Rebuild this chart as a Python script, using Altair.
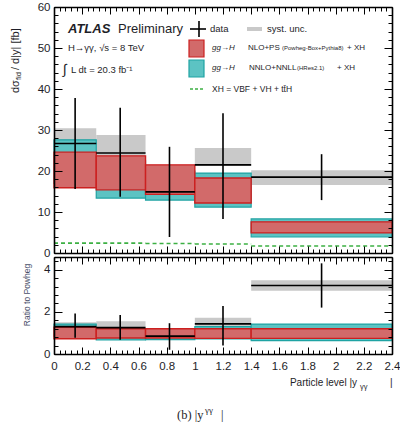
import altair as alt
import numpy as np
import pandas as pd

# ---- binning in |y_gg| ----
bin_lo = [0.0, 0.3, 0.65, 1.0, 1.4]
bin_hi = [0.3, 0.65, 1.0, 1.4, 2.4]
bin_mid = [0.15, 0.47, 0.82, 1.2, 1.9]

# ---- measured fiducial cross section [fb] ----
data_xs = [26.7, 24.4, 14.9, 21.5, 18.5]
data_lo = [15.6, 13.7, 3.9, 8.3, 12.9]
data_hi = [37.8, 35.4, 25.9, 34.1, 24.1]
syst_lo = [24.0, 22.0, 13.6, 21.2, 16.6]
syst_hi = [30.4, 28.8, 16.4, 25.6, 20.2]

# ---- predictions ----
powheg_lo = [15.9, 15.4, 14.3, 12.2, 4.9]
powheg_hi = [24.6, 23.7, 21.5, 18.3, 7.6]
hres_lo = [17.0, 13.4, 12.9, 11.2, 3.9]
hres_hi = [27.6, 22.5, 20.0, 19.5, 8.3]
xh_xs = [2.4, 2.4, 2.3, 2.2, 1.7]

# ---- ratio to Powheg ----
ratio_val = [1.3, 1.25, 0.85, 1.43, 3.25]
ratio_lo = [0.77, 0.68, 0.2, 0.4, 2.2]
ratio_hi = [1.92, 1.85, 1.46, 2.28, 4.3]
ratio_syst_lo = [1.1, 1.0, 0.75, 1.3, 3.0]
ratio_syst_hi = [1.5, 1.55, 0.95, 1.72, 3.5]
ratio_powheg_lo = [0.72, 0.76, 0.76, 0.74, 0.74]
ratio_powheg_hi = [1.27, 1.2, 1.2, 1.2, 1.2]
ratio_hres_lo = [0.85, 0.67, 0.68, 0.72, 0.63]
ratio_hres_hi = [1.42, 1.15, 1.12, 1.3, 1.42]

# ---- axis tick positions ----
x_major = [0, 0.2, 0.4, 0.6, 0.8, 1, 1.2, 1.4, 1.6, 1.8, 2, 2.2, 2.4]
x_minor = [round(v, 2) for v in np.arange(0, 2.4001, 0.04)]
y_major = [0, 10, 20, 30, 40, 50, 60]
y_minor = list(range(0, 61, 2))
r_major = [0, 2, 4]
r_minor = [round(v, 1) for v in np.arange(0, 4.61, 0.4)]

df = pd.DataFrame(dict(
    lo=bin_lo, hi=bin_hi, mid=bin_mid,
    xs=data_xs, elo=data_lo, ehi=data_hi, slo=syst_lo, shi=syst_hi,
    plo=powheg_lo, phi=powheg_hi, hlo=hres_lo, hhi=hres_hi, xh=xh_xs,
    r=ratio_val, rlo=ratio_lo, rhi=ratio_hi, rslo=ratio_syst_lo, rshi=ratio_syst_hi,
    rplo=ratio_powheg_lo, rphi=ratio_powheg_hi, rhlo=ratio_hres_lo, rhhi=ratio_hres_hi,
))

W, H = 338, 347          # whole drawing area (both panels)
MAIN_H = 246             # bottom edge of the upper panel
RATIO_TOP = 250          # top edge of the ratio panel

FONT = "Liberation Sans"
INK = "#1e1e28"
GREY = "#c9c9c9"
RED_FILL, RED_LINE = "#d26a6a", "#cc2020"
TEAL_FILL, TEAL_LINE = "#5cc3c3", "#1fa3a3"
GREEN = "#3cb043"

xscale = alt.Scale(domain=[0, 2.4], nice=False, zero=False)
yscale = alt.Scale(domain=[0, 60], range=[MAIN_H, 0], nice=False, zero=False)
rscale = alt.Scale(domain=[0, 4.6], range=[H, RATIO_TOP], nice=False, zero=False)


def tick_axis(orient, offset, values, size, domain):
    return alt.Axis(orient=orient, offset=offset, values=values, tickSize=size,
                    labels=False, domain=domain, title=None, grid=False,
                    tickColor="black", tickWidth=1, domainColor="black",
                    domainWidth=1.6, zindex=3)


def label_axis(orient, values, pad, fmt=None):
    kw = dict(orient=orient, values=values, ticks=False, domain=False, title=None,
              grid=False, labelPadding=pad, labelFlush=False, labelOverlap=False,
              labelFont=FONT, labelFontSize=11.5, labelColor=INK, zindex=3)
    if fmt:
        kw["format"] = fmt
    return alt.Axis(**kw)


def x_guide(axis):
    return alt.Chart(df).mark_point(opacity=0, size=1).encode(
        x=alt.X("mid:Q", scale=xscale, axis=axis))


def y_guide(field, scale, axis):
    return alt.Chart(df).mark_point(opacity=0, size=1).encode(
        y=alt.Y(field, type="quantitative", scale=scale, axis=axis))


guides = [
    # horizontal frame edges with inward ticks
    x_guide(tick_axis("bottom", -H, x_major, 7, True)),
    x_guide(tick_axis("bottom", -H, x_minor, 4, False)),
    x_guide(tick_axis("top", -MAIN_H, x_major, 7, True)),
    x_guide(tick_axis("top", -MAIN_H, x_minor, 4, False)),
    x_guide(tick_axis("bottom", RATIO_TOP - H, x_major, 7, True)),
    x_guide(tick_axis("bottom", RATIO_TOP - H, x_minor, 4, False)),
    x_guide(tick_axis("top", -H, x_major, 7, True)),
    x_guide(tick_axis("top", -H, x_minor, 4, False)),
    x_guide(label_axis("bottom", x_major, 6, "~g")),
    # vertical frame edges, upper panel
    y_guide("xs", yscale, label_axis("left", y_major, 4)),
    y_guide("xs", yscale, tick_axis("right", -W, y_major, 8, True)),
    y_guide("xs", yscale, tick_axis("right", -W, y_minor, 4, False)),
    y_guide("xs", yscale, tick_axis("left", -W, y_major, 8, True)),
    y_guide("xs", yscale, tick_axis("left", -W, y_minor, 4, False)),
    # vertical frame edges, ratio panel
    y_guide("r", rscale, label_axis("left", r_major, 4)),
    y_guide("r", rscale, tick_axis("right", -W, r_major, 8, True)),
    y_guide("r", rscale, tick_axis("right", -W, r_minor, 4, False)),
    y_guide("r", rscale, tick_axis("left", -W, r_major, 8, True)),
    y_guide("r", rscale, tick_axis("left", -W, r_minor, 4, False)),
]


def band(lo, hi, scale, fill, stroke=None, sw=1.2):
    kw = dict(fill=fill, opacity=1)
    if stroke:
        kw.update(stroke=stroke, strokeWidth=sw)
    else:
        kw.update(strokeWidth=0)
    return alt.Chart(df).mark_rect(**kw).encode(
        x=alt.X("lo:Q", scale=xscale, axis=None), x2="hi:Q",
        y=alt.Y(lo, type="quantitative", scale=scale, axis=None), y2=hi)


def hline(field, scale, color, width, dash=None):
    kw = dict(color=color, strokeWidth=width)
    if dash:
        kw["strokeDash"] = dash
    return alt.Chart(df).mark_rule(**kw).encode(
        x=alt.X("lo:Q", scale=xscale, axis=None), x2="hi:Q",
        y=alt.Y(field, type="quantitative", scale=scale, axis=None))


def vbar(lo, hi, scale):
    return alt.Chart(df).mark_rule(color="black", strokeWidth=1.6).encode(
        x=alt.X("mid:Q", scale=xscale, axis=None),
        y=alt.Y(lo, type="quantitative", scale=scale, axis=None), y2=hi)


marks = [
    # upper panel
    band("slo", "shi", yscale, GREY),
    band("hlo", "hhi", yscale, TEAL_FILL, TEAL_LINE),
    band("plo", "phi", yscale, RED_FILL, RED_LINE, 1.4),
    hline("xh", yscale, GREEN, 1.6, [4, 3]),
    hline("xs", yscale, "black", 1.6),
    vbar("elo", "ehi", yscale),
    # ratio panel
    band("rslo", "rshi", rscale, GREY),
    band("rhlo", "rhhi", rscale, TEAL_FILL, TEAL_LINE),
    band("rplo", "rphi", rscale, RED_FILL, RED_LINE, 1.4),
    hline("r", rscale, "black", 1.6),
    vbar("rlo", "rhi", rscale),
]


def txt(s, x, y, size=9, **kw):
    props = dict(text=s, fontSize=size, font=kw.pop("font", FONT),
                 align=kw.pop("align", "left"), baseline=kw.pop("baseline", "middle"),
                 color=kw.pop("color", INK))
    props.update(kw)
    return alt.Chart(alt.Data(values=[{}])).mark_text(**props).encode(
        x=alt.value(x), y=alt.value(y))


def box(x1, x2, y1, y2, fill, stroke=None):
    kw = dict(fill=fill)
    if stroke:
        kw.update(stroke=stroke, strokeWidth=1.2)
    return alt.Chart(alt.Data(values=[{}])).mark_rect(**kw).encode(
        x=alt.value(x1), x2=alt.value(x2), y=alt.value(y1), y2=alt.value(y2))


def seg(x1, x2, y1, y2, color="black", width=1.6, dash=None):
    kw = dict(color=color, strokeWidth=width)
    if dash:
        kw["strokeDash"] = dash
    return alt.Chart(alt.Data(values=[{}])).mark_rule(**kw).encode(
        x=alt.value(x1), x2=alt.value(x2), y=alt.value(y1), y2=alt.value(y2))


legend = [
    txt("ATLAS", 14, 22, 13, fontWeight="bold", fontStyle="italic"),
    txt("Preliminary", 64, 22, 13),
    txt("H→γγ, √s = 8 TeV", 14, 41, 9.5),
    txt("∫", 9, 63, 14),
    txt("L dt = 20.3 fb⁻¹", 17, 63, 9.5),
    # data marker
    seg(145, 145, 14, 30),
    seg(136, 152, 22, 22),
    txt("data", 156, 22, 9.5),
    box(193, 208, 20, 24, GREY),
    txt("syst. unc.", 213, 22, 9.5),
    # Powheg band
    box(135, 150, 33, 50, RED_FILL, RED_LINE),
    txt("gg→H", 158, 41, 8, fontStyle="italic"),
    txt("NLO+PS", 194, 41, 8),
    txt("(Powheg-Box+Pythia8)", 228, 41, 6),
    txt("+ XH", 293, 41, 8),
    # HRes band
    box(135, 150, 53, 70, TEAL_FILL, TEAL_LINE),
    txt("gg→H", 158, 61, 8, fontStyle="italic"),
    txt("NNLO+NNLL", 195, 61, 8),
    txt("(HRes2.1)", 243, 61, 6),
    txt("+ XH", 283, 61, 8),
    # XH line
    seg(136, 150, 82, 82, GREEN, 1.6, [3, 2]),
    txt("XH = VBF + VH + tt̄H", 158, 82, 8.5),
]

titles = [
    # y title of the upper panel, rotated
    txt("dσ", -38, 86, 11, angle=270),
    txt("fid", -35, 73, 7.5, angle=270),
    txt("/ d|y| [fb]", -38, 63, 11, angle=270),
    # ratio panel title
    txt("Ratio to Powheg", -27, 288, 8.5, angle=270, align="center", color="#4a4f6a"),
    # x title
    txt("Particle level |y", 303, 376, 10, align="right"),
    txt("γγ", 306, 380, 7.5),
    txt("|", 336, 376, 10),
    # caption
    txt("(b) |y", 123, 408, 12.5, font="Liberation Serif"),
    txt("γγ", 151, 403, 9, font="Liberation Serif"),
    txt("|", 167, 408, 12.5, font="Liberation Serif"),
]

chart = alt.layer(*marks, *guides, *legend, *titles).resolve_scale(
    y="independent"
).resolve_axis(
    x="independent", y="independent"
).properties(
    width=W, height=H,
    padding={"left": 54, "top": 7, "right": 8, "bottom": 77},
    autosize=alt.AutoSizeParams(type="none"),
    background="white",
).configure_view(stroke=None).configure_axis(grid=False)

chart.save("out.html", embed_options={"renderer": "svg", "actions": False})
